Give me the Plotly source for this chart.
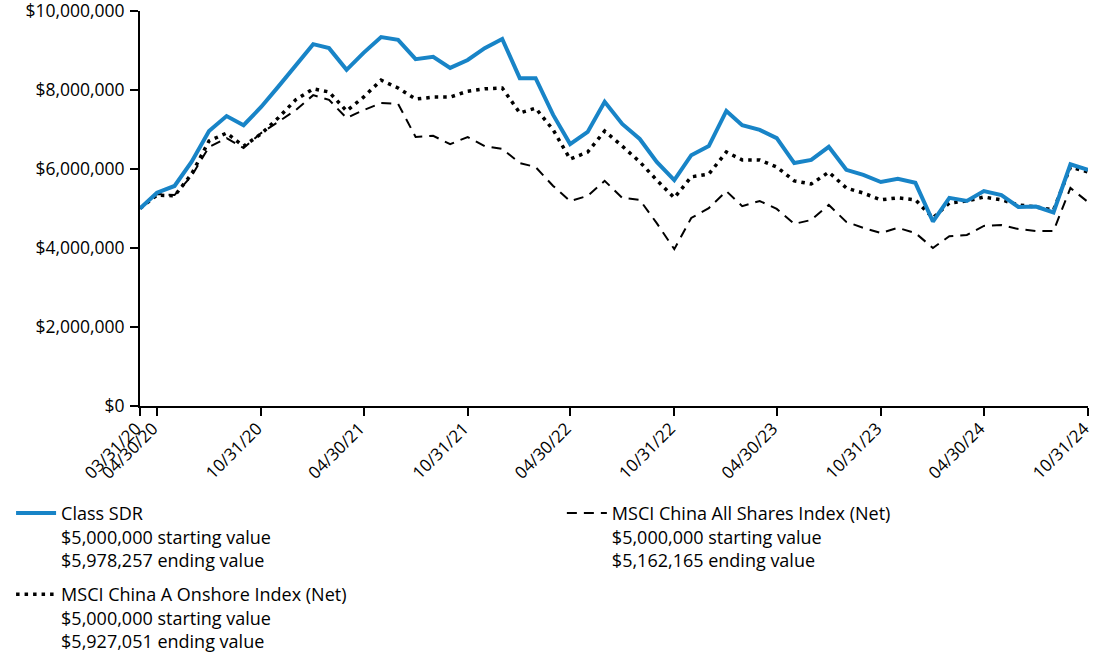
import pandas as pd
import plotly.graph_objects as go

months = pd.date_range("2020-03-31", periods=56, freq="ME")

class_sdr = [5.00, 5.40, 5.57, 6.18, 6.96, 7.34, 7.11, 7.57, 8.08, 8.63,
             9.16, 9.06, 8.51, 8.94, 9.34, 9.27, 8.78, 8.84, 8.56, 8.76,
             9.06, 9.29, 8.30, 8.30, 7.37, 6.63, 6.94, 7.70, 7.14, 6.76,
             6.18, 5.72, 6.35, 6.58, 7.47, 7.11, 6.99, 6.78, 6.15, 6.23,
             6.56, 5.98, 5.85, 5.67, 5.75, 5.65, 4.67, 5.27, 5.19, 5.44,
             5.34, 5.04, 5.05, 4.90, 6.12, 5.978257]
msci_a_onshore = [5.00, 5.34, 5.32, 5.87, 6.71, 6.91, 6.58, 6.89, 7.29, 7.75,
                  8.03, 7.95, 7.47, 7.82, 8.25, 8.05, 7.77, 7.82, 7.82, 7.97,
                  8.03, 8.05, 7.42, 7.54, 6.99, 6.25, 6.43, 6.96, 6.58, 6.18,
                  5.72, 5.27, 5.80, 5.87, 6.43, 6.23, 6.23, 6.05, 5.70, 5.62,
                  5.92, 5.52, 5.39, 5.22, 5.27, 5.22, 4.76, 5.14, 5.19, 5.29,
                  5.22, 5.09, 5.04, 4.96, 6.05, 5.927051]
msci_all_shares = [5.00, 5.37, 5.34, 5.82, 6.56, 6.78, 6.53, 6.91, 7.19, 7.49,
                   7.87, 7.75, 7.29, 7.49, 7.67, 7.65, 6.81, 6.84, 6.63, 6.81,
                   6.58, 6.51, 6.15, 6.05, 5.57, 5.19, 5.32, 5.70, 5.27, 5.22,
                   4.63, 3.97, 4.76, 5.01, 5.44, 5.06, 5.19, 4.99, 4.61, 4.71,
                   5.09, 4.66, 4.51, 4.38, 4.51, 4.38, 4.00, 4.30, 4.33, 4.56,
                   4.58, 4.48, 4.43, 4.43, 5.52, 5.162165]

tick_dates = ["2020-03-31", "2020-04-30", "2020-10-31", "2021-04-30", "2021-10-31",
              "2022-04-30", "2022-10-31", "2023-04-30", "2023-10-31", "2024-04-30",
              "2024-10-31"]
tick_labels = ["03/31/20", "04/30/20", "10/31/20", "04/30/21", "10/31/21",
               "04/30/22", "10/31/22", "04/30/23", "10/31/23", "04/30/24",
               "10/31/24"]
y_ticks = [0, 2_000_000, 4_000_000, 6_000_000, 8_000_000, 10_000_000]
y_labels = ["$0", "$2,000,000", "$4,000,000", "$6,000,000", "$8,000,000", "$10,000,000"]

names = [
    "Class SDR<br>$5,000,000 starting value<br>$5,978,257 ending value",
    "MSCI China A Onshore Index (Net)<br>$5,000,000 starting value<br>$5,927,051 ending value",
    "MSCI China All Shares Index (Net)<br>$5,000,000 starting value<br>$5,162,165 ending value",
]

FONT = "Open Sans"
FS = 18
fig = go.Figure()
fig.add_trace(go.Scatter(x=months, y=[v * 1e6 for v in msci_all_shares], mode="lines",
                         name=names[2], legend="legend2",
                         line=dict(color="black", width=2, dash="10px,7px")))
fig.add_trace(go.Scatter(x=months, y=[v * 1e6 for v in msci_a_onshore], mode="lines",
                         name=names[1], legendrank=2, legendgroup="b",
                         line=dict(color="black", width=3.5, dash="3.5px,5px")))
fig.add_trace(go.Scatter(x=months, y=[v * 1e6 for v in class_sdr], mode="lines",
                         name=names[0], legendrank=1, legendgroup="a",
                         line=dict(color="#1884c7", width=4)))

leg_common = dict(orientation="v", yanchor="top", xanchor="left", valign="top",
                  itemwidth=40, bgcolor="rgba(0,0,0,0)",
                  font=dict(family=FONT, size=FS, color="black"))

fig.update_layout(
    width=1100, height=653,
    margin=dict(l=140, r=12, t=11, b=247, autoexpand=False),
    paper_bgcolor="white", plot_bgcolor="white",
    font=dict(family=FONT, size=FS, color="black"),
    showlegend=True,
    legend=dict(x=-0.136, y=-0.225, traceorder="grouped", tracegroupgap=8, **leg_common),
    legend2=dict(x=0.445, y=-0.225, **leg_common),
    xaxis=dict(type="date", range=["2020-03-31", "2024-10-31"], automargin=False,
               tickvals=tick_dates, ticktext=tick_labels, tickangle=-45,
               ticklabelstandoff=-4, ticklabelshift=-4, ticklabeloverflow="allow",
               showgrid=False, zeroline=False, showline=True, linecolor="black",
               linewidth=2, ticks="outside", ticklen=8, tickwidth=2, tickcolor="black",
               tickfont=dict(family=FONT, size=17)),
    yaxis=dict(range=[0, 10_000_000], tickvals=y_ticks, ticktext=y_labels, automargin=False,
               ticklabeloverflow="allow", ticklabelstandoff=2,
               showgrid=False, zeroline=False, showline=True, linecolor="black",
               linewidth=2, ticks="outside", ticklen=8, tickwidth=2, tickcolor="black",
               tickfont=dict(family=FONT, size=17.5)),
)

fig.write_html("out.html", config={"displayModeBar": False},
               post_script="document.body.style.margin='0px';")
